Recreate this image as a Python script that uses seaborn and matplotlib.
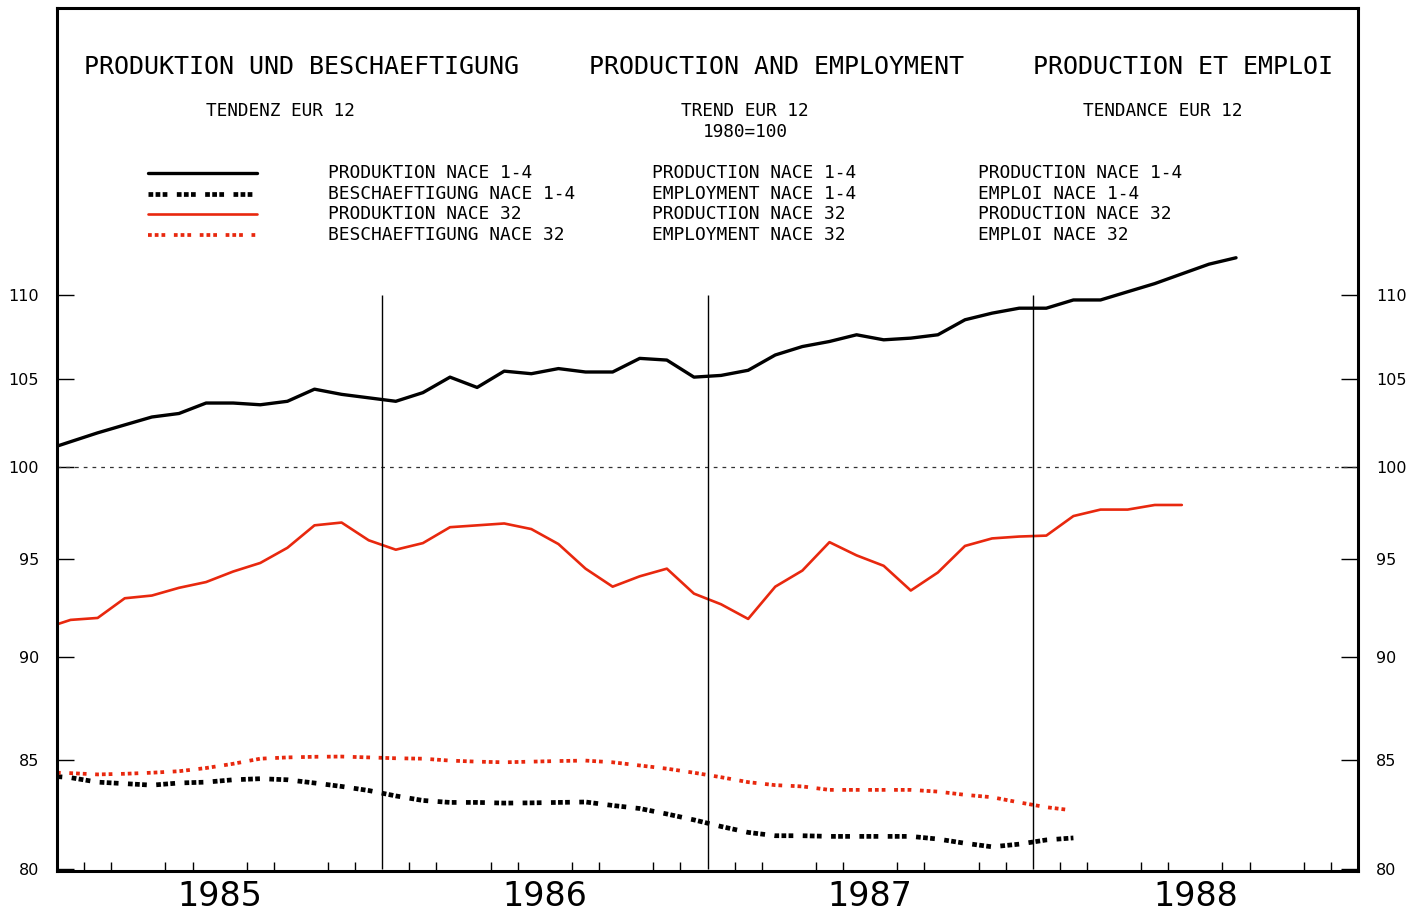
import numpy as np
import pandas as pd
import seaborn as sns
import matplotlib.pyplot as plt
from matplotlib.ticker import FixedLocator, FixedFormatter, NullLocator

# monthly values, first value = Dec 1984 (clipped at the left edge)
prod_14 = [100.9, 101.4, 101.9, 102.35, 102.8, 103.0, 103.6, 103.6, 103.5, 103.7, 104.4, 104.1, 103.9,
           103.7, 104.2, 105.1, 104.5, 105.45, 105.3, 105.6, 105.4, 105.4, 106.2, 106.1, 105.1,
           105.2, 105.5, 106.4, 106.9, 107.2, 107.6, 107.3, 107.4, 107.6, 108.5, 108.9, 109.2,
           109.2, 109.7, 109.7, 110.2, 110.7, 111.3, 111.9, 112.3]
emp_14 = [84.25, 84.15, 83.94, 83.87, 83.8, 83.9, 83.94, 84.05, 84.1, 84.05, 83.9, 83.74, 83.55,
          83.3, 83.09, 83.0, 83.0, 82.97, 82.98, 83.0, 83.02, 82.86, 82.72, 82.47, 82.2,
          81.9, 81.63, 81.48, 81.48, 81.45, 81.45, 81.45, 81.45, 81.33, 81.14, 80.98, 81.1,
          81.29, 81.38]
prod_32 = [91.4, 91.85, 91.95, 92.96, 93.1, 93.5, 93.8, 94.35, 94.8, 95.6, 96.8, 96.95, 96.0,
           95.5, 95.85, 96.7, 96.8, 96.9, 96.6, 95.8, 94.5, 93.56, 94.1, 94.5, 93.2,
           92.65, 91.9, 93.56, 94.4, 95.9, 95.2, 94.65, 93.36, 94.3, 95.7, 96.1, 96.2,
           96.25, 97.3, 97.65, 97.65, 97.9, 97.9]
emp_32 = [84.4, 84.36, 84.3, 84.33, 84.38, 84.45, 84.6, 84.8, 85.04, 85.1, 85.13, 85.14, 85.1,
          85.06, 85.04, 84.95, 84.9, 84.87, 84.9, 84.93, 84.95, 84.87, 84.72, 84.57, 84.38,
          84.17, 83.94, 83.8, 83.74, 83.58, 83.58, 83.58, 83.58, 83.5, 83.35, 83.24, 83.0,
          82.78, 82.63]

labels_de = ["PRODUKTION NACE 1-4", "BESCHAEFTIGUNG NACE 1-4", "PRODUKTION NACE 32", "BESCHAEFTIGUNG NACE 32"]
labels_en = ["PRODUCTION NACE 1-4", "EMPLOYMENT NACE 1-4", "PRODUCTION NACE 32", "EMPLOYMENT NACE 32"]
labels_fr = ["PRODUCTION NACE 1-4", "EMPLOI NACE 1-4", "PRODUCTION NACE 32", "EMPLOI NACE 32"]
years = [1985, 1986, 1987, 1988]
y_ticks = [80, 85, 90, 95, 100, 105, 110]

RED = "#e8280e"
styles = [
    dict(color="black", lw=2.4, ls="-"),
    dict(color="black", lw=3.4, ls=(0, (1, 0.5, 1, 0.5, 1, 2.0))),
    dict(color=RED, lw=1.9, ls="-"),
    dict(color=RED, lw=2.7, ls=(0, (1, 0.8, 1, 0.8, 1, 2.3))),
]


def month_x(vals):
    p = pd.period_range("1984-12", periods=len(vals), freq="M")
    return np.asarray(p.year + (p.month - 0.5) / 12.0, dtype=float)


sns.set_style("white")
plt.rcParams.update({"text.color": "black", "xtick.color": "black",
                     "ytick.color": "black", "axes.labelcolor": "black"})
mono = "DejaVu Sans Mono"

fig = plt.figure(figsize=(14.23, 9.17), dpi=100)
ax = fig.add_axes([57 / 1423, 46 / 917, 1301 / 1423, 863 / 917])

for vals, st in zip([prod_14, emp_14, prod_32, emp_32], styles):
    sns.lineplot(x=month_x(vals), y=vals, ax=ax, color=st["color"], lw=st["lw"])
    ln = ax.lines[-1]
    ln.set_linestyle(st["ls"])
    ln.set_dash_capstyle("butt")

ax.set_yscale("log")
ax.set_xlim(1985, 1989)
ax.set_ylim(79.9, 129)

ax.axhline(100, color="#333333", lw=0.9, ls=(0, (3, 4)))
ax.vlines(years[1:], 80, 110, color="black", lw=1.0)

# ticks
ax.yaxis.set_major_locator(FixedLocator(y_ticks))
ax.yaxis.set_major_formatter(FixedFormatter([str(v) for v in y_ticks]))
ax.yaxis.set_minor_locator(NullLocator())
ax.tick_params(axis="y", which="major", direction="in", length=12, width=1,
               left=True, right=True, labelleft=True, labelright=True,
               labelsize=11.5, pad=13)
ax.xaxis.set_major_locator(FixedLocator(np.arange(1985, 1989.01, 0.25)))
ax.xaxis.set_minor_locator(FixedLocator(np.arange(1985, 1989.01, 1 / 12)))
ax.tick_params(axis="x", which="major", direction="in", length=17, width=1, labelbottom=False)
ax.tick_params(axis="x", which="minor", direction="in", length=6.5, width=1, bottom=True)
for yr in years:
    ax.text(yr + 0.5, -0.03, str(yr), transform=ax.get_xaxis_transform(),
            ha="center", va="center", fontsize=24)

for s in ax.spines.values():
    s.set_visible(True)
    s.set_color("black")
    s.set_linewidth(2.2)

# headings
for x, t in [(0.1879, "PRODUKTION UND BESCHAEFTIGUNG"), (0.5534, "PRODUCTION AND EMPLOYMENT"),
             (0.8655, "PRODUCTION ET EMPLOI")]:
    ax.text(x, 0.9316, t, transform=ax.transAxes, ha="center", va="center",
            fontsize=18, family=mono)
for x, y, t in [(0.1714, 0.8806, "TENDENZ EUR 12"), (0.5288, 0.8806, "TREND EUR 12"),
                (0.5288, 0.8563, "1980=100"), (0.8501, 0.8806, "TENDANCE EUR 12")]:
    ax.text(x, y, t, transform=ax.transAxes, ha="center", va="center",
            fontsize=12.8, family=mono)

# legend block
rows = [0.8088, 0.7845, 0.7613, 0.7370]
for i, st in enumerate(styles):
    ax.plot([0.0699, 0.1537], [rows[i], rows[i]], transform=ax.transAxes,
            color=st["color"], lw=st["lw"], ls=st["ls"], dash_capstyle="butt")
    for x, lab in [(0.2083, labels_de[i]), (0.4573, labels_en[i]), (0.7079, labels_fr[i])]:
        ax.text(x, rows[i], lab, transform=ax.transAxes, ha="left", va="center",
                fontsize=12.9, family=mono)

fig.savefig("out.png", dpi=100, facecolor="white")
